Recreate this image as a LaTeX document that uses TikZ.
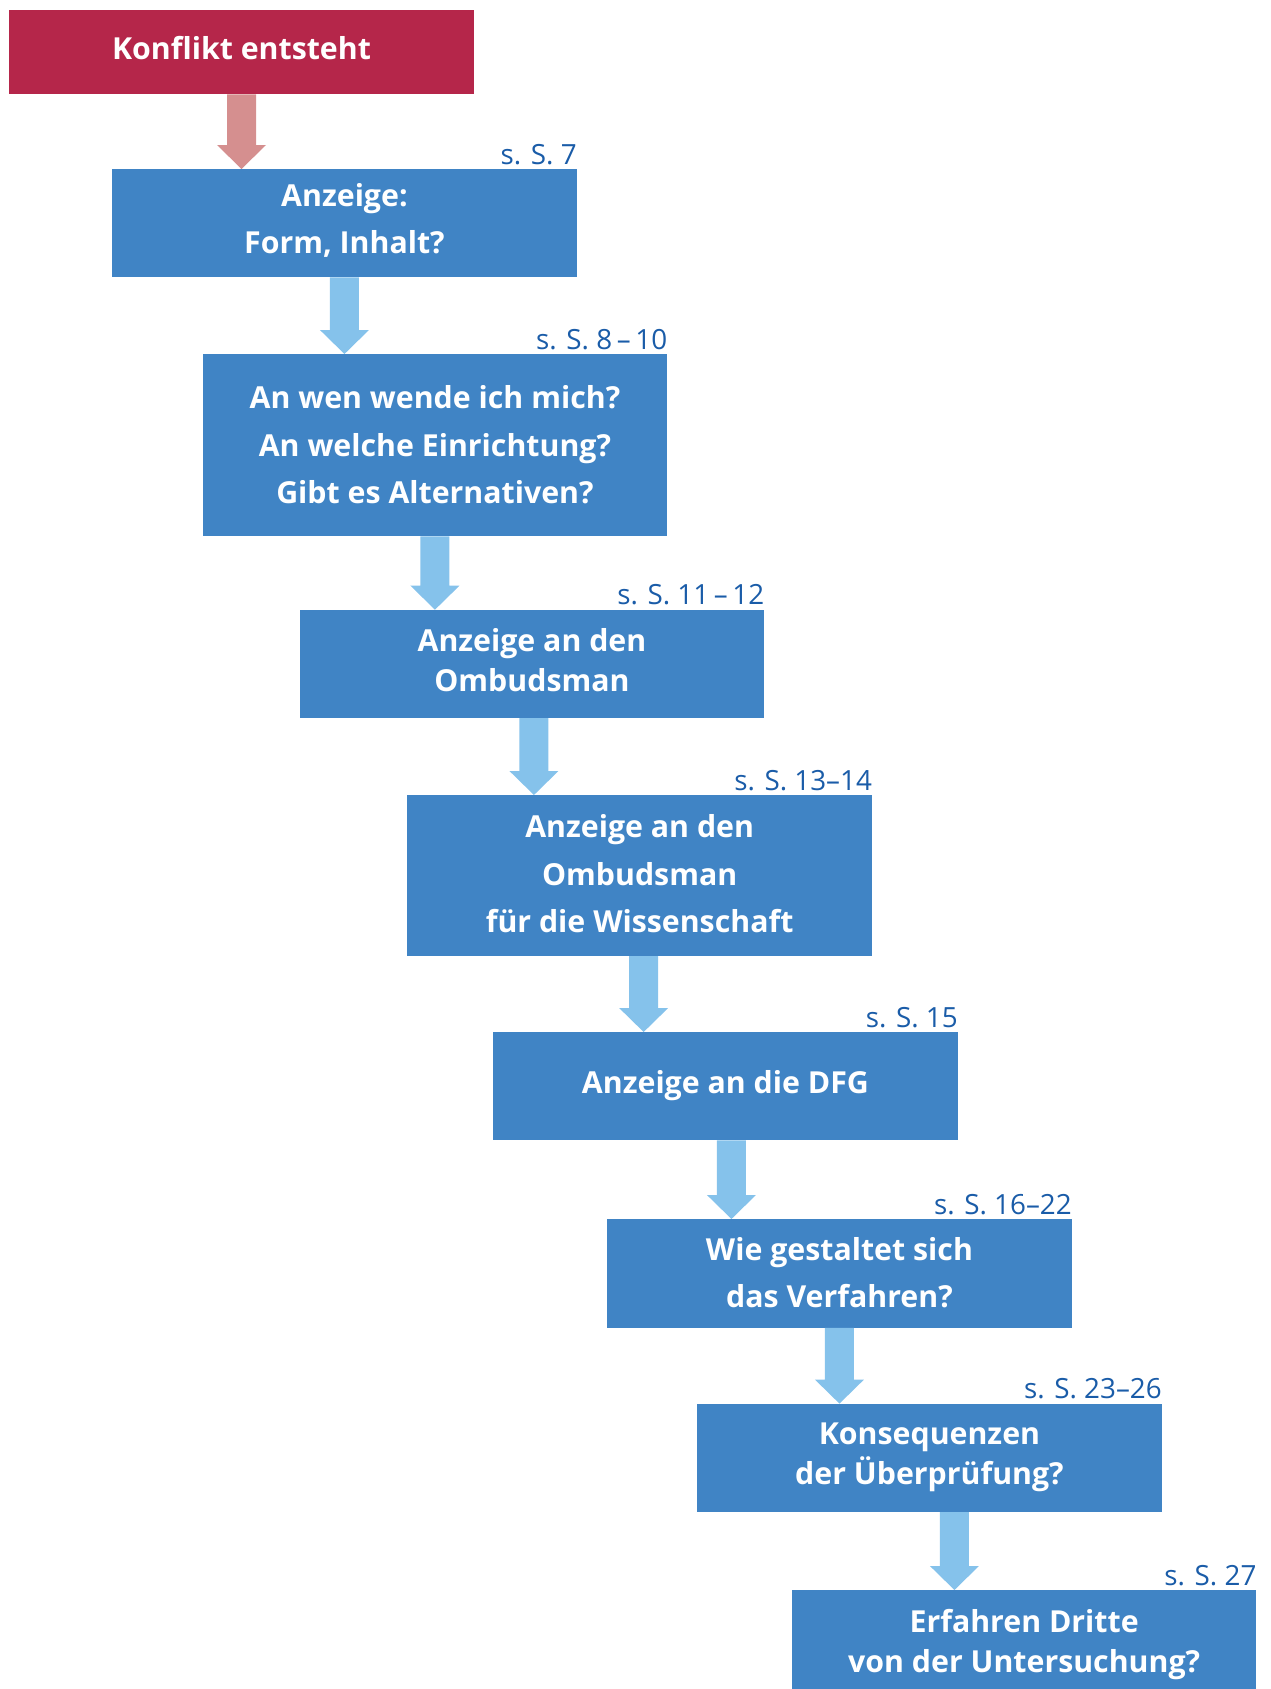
\documentclass[tikz,border=0pt]{standalone}
\usepackage{fontspec}
\setmainfont{Open Sans}
\usetikzlibrary{calc}
\definecolor{redbox}{RGB}{181,38,74}
\definecolor{redarrow}{RGB}{213,143,143}
\definecolor{boxblue}{RGB}{64,132,197}
\definecolor{arrowblue}{RGB}{133,194,235}
\definecolor{refblue}{RGB}{26,92,168}
\tikzset{
  box/.style={fill=boxblue, text=white, font=\bfseries\fontsize{30.3}{47.5}\selectfont,
    align=center, minimum width=464.5pt, minimum height=108pt, inner sep=0pt, anchor=north west,
    rd=20},
  rh/.style={execute at begin node={\rule{0pt}{#1pt}}},
  rd/.style={execute at end node={\rule[-#1pt]{0pt}{#1pt}}},
  tight/.style={font=\bfseries\fontsize{30.3}{40}\selectfont},
  pageref/.style={anchor=base east, text=refblue, font=\fontsize{27.8}{27.8}\selectfont, inner sep=0pt},
}
\newcommand\fatarrow[4]{%
  \fill[#4] let \p1=([xshift=#3]#1.south), \p2=(#2.north) in
    (\x1-14.5pt,\y1) -- (\x1+14.5pt,\y1) -- (\x1+14.5pt,\y2+24pt) -- (\x1+24.5pt,\y2+24pt)
    -- (\x1,\y2) -- (\x1-24.5pt,\y2+24pt) -- (\x1-14.5pt,\y2+24pt) -- cycle;}
\begin{document}
\begin{tikzpicture}[x=1pt,y=-1pt]
\useasboundingbox (0,0) rectangle (1270,1689);
\clip (0,0) rectangle (1270,1689);
\node[box, rh=36, fill=redbox, minimum width=465.4pt, minimum height=84.5pt] (b0) at (8.6,9.5) {Konflikt entsteht};
\node[box, rh=80.7] (b1) at (112,169) {Anzeige:\\Form, Inhalt?};
\node[box, rh=137.4, minimum height=182pt] (b2) at (202.5,354) {An wen wende ich mich?\\An welche Einrichtung?\\Gibt es Alternativen?};
\node[box, rh=75.3, tight] (b3) at (299.5,609.7) {Anzeige an den\\Ombudsman};
\node[box, rh=134.6, minimum height=160.6pt] (b4) at (407.2,795) {Anzeige an den\\Ombudsman\\für die Wissenschaft};
\node[box, rh=33.6] (b5) at (493,1032) {Anzeige an die DFG};
\node[box, rh=88.5, rd=19.5] (b6) at (607,1219) {Wie gestaltet sich\\das Verfahren?};
\node[box, rh=73.9, tight] (b7) at (697,1403.6) {Konsequenzen\\der Überprüfung?};
\node[box, rh=76.4, tight] (b8) at (791.7,1590) {Erfahren Dritte\\von der Untersuchung?};

\node[pageref] (r1) at ([yshift=5pt]b1.north east) {s. S. 7};
\node[pageref] (r2) at ([yshift=5pt]b2.north east) {s. S. 8\,–\,10};
\node[pageref] (r3) at ([yshift=5pt]b3.north east) {s. S. 11\,–\,12};
\node[pageref] (r4) at ([yshift=5pt]b4.north east) {s. S. 13–14};
\node[pageref] (r5) at ([yshift=5pt]b5.north east) {s. S. 15};
\node[pageref] (r6) at ([yshift=5pt]b6.north east) {s. S. 16–22};
\node[pageref] (r7) at ([yshift=5pt]b7.north east) {s. S. 23–26};
\node[pageref] (r8) at ([yshift=5pt]b8.north east) {s. S. 27};

\fatarrow{b0}{b1}{0pt}{redarrow}
\fatarrow{b1}{b2}{0pt}{arrowblue}
\fatarrow{b2}{b3}{0pt}{arrowblue}
\fatarrow{b3}{b4}{2pt}{arrowblue}
\fatarrow{b4}{b5}{4pt}{arrowblue}
\fatarrow{b5}{b6}{6pt}{arrowblue}
\fatarrow{b6}{b7}{0pt}{arrowblue}
\fatarrow{b7}{b8}{25pt}{arrowblue}
\end{tikzpicture}
\end{document}
